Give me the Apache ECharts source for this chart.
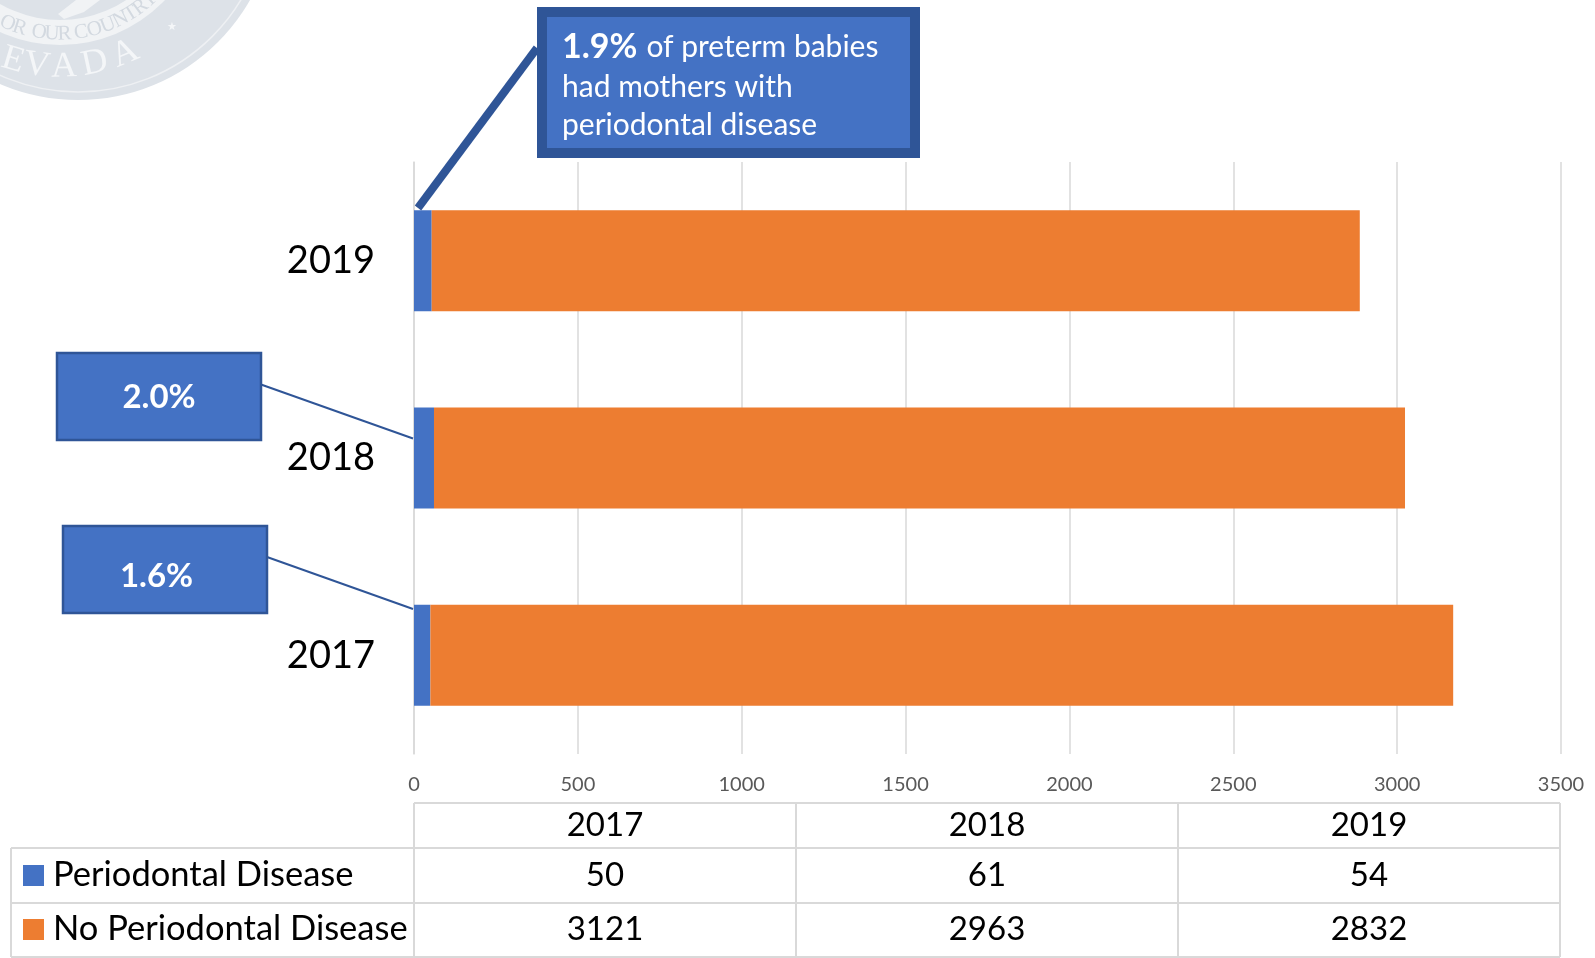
<!DOCTYPE html>
<html>
<head>
<meta charset="utf-8">
<style>html,body{margin:0;padding:0;background:#fff}#c{width:1595px;height:958px}</style>
<script src="https://cdn.jsdelivr.net/npm/echarts@6/dist/echarts.min.js"></script>
</head>
<body>
<div id="c"></div>
<script>
const categories = ['2017', '2018', '2019'];
const seriesNames = ['Periodontal Disease', 'No Periodontal Disease'];
const periodontal = [50, 61, 54];
const noPeriodontal = [3121, 2963, 2832];
const calloutPercents = ['1.6%', '2.0%', '1.9%'];
const calloutLines = ['of preterm babies', 'had mothers with', 'periodontal disease'];

const BLUE = '#4472c4', ORANGE = '#ed7d31', NAVY = '#2f5597', GRID = '#d9d9d9', SEAL = '#dde2e8', BAND = '#f1f3f5';
const FONT = 'Lato';
const chart = echarts.init(document.getElementById('c'), null, {renderer: 'canvas'});

const els = [];
const rect = (x, y, w, h, fill, stroke, lw, z) => els.push({type: 'rect', shape: {x, y, width: w, height: h}, style: {fill: fill || 'none', stroke: stroke || 'none', lineWidth: lw || 0}, z: z || 5, silent: true});
const line = (x1, y1, x2, y2, stroke, lw, z) => els.push({type: 'line', shape: {x1, y1, x2, y2}, style: {stroke, lineWidth: lw}, z: z || 5, silent: true});
const text = (x, y, t, size, o) => els.push({type: 'text', x, y, z: 6, silent: true, style: Object.assign({text: t, fontFamily: FONT, fontSize: size, fill: '#000', align: 'center', verticalAlign: 'middle'}, o || {})});
const circle = (cx, cy, r, fill, stroke, lw) => els.push({type: 'circle', shape: {cx, cy, r}, style: {fill: fill || 'none', stroke: stroke || 'none', lineWidth: lw || 0}, z: 1, silent: true});

/* faded seal in the corner */
const SCX = 60, SCY = -100;
circle(78, -98, 198, SEAL);
circle(78, -98, 190, 'none', '#eef0f3', 1.5);
circle(SCX, SCY, 145, BAND);
circle(SCX, SCY, 120, SEAL);
let arcFill = '#f4f6f8';
const arcLetters = (letters, angles, r, size) => letters.forEach((ch, i) => {
  const a = angles[i] * Math.PI / 180;
  els.push({type: 'text', x: SCX + r * Math.sin(a), y: SCY + r * Math.cos(a), rotation: a, z: 2, silent: true,
    style: {text: ch, fontFamily: 'Liberation Serif', fontSize: size, fill: arcFill, align: 'center', verticalAlign: 'middle'}});
});
arcLetters(['E', 'V', 'A', 'D', 'A'], [-16.4, -8, 1.4, 12, 23], 167, 36);
arcFill = '#d3d9e0';
arcLetters(['O', 'R', 'O', 'U', 'R', 'C', 'O', 'U', 'N', 'T', 'R', 'Y'], [-23, -17.5, -9, -3.5, 2, 9, 15, 21, 27, 32, 37, 42], 134, 21);
els.push({type: 'text', x: 172, y: 27, z: 2, silent: true, style: {text: '★', fontFamily: 'DejaVu Sans', fontSize: 11, fill: '#f4f6f8', align: 'center', verticalAlign: 'middle'}});
els.push({type: 'polygon', shape: {points: [[58, 14], [76, 0], [100, 0], [84, 12], [64, 19]]}, style: {fill: '#f1f3f5'}, z: 2, silent: true});

/* data table */
const colX = [414, 796, 1178, 1560], rowY = [803, 848, 903, 957], LEFT = 11;
for (let i = 0; i < colX.length; i++) line(colX[i], rowY[0], colX[i], rowY[3], GRID, 2);
line(LEFT, rowY[1], LEFT, rowY[3], GRID, 2);
line(colX[0], rowY[0], colX[3], rowY[0], GRID, 2);
for (let j = 1; j < rowY.length; j++) line(LEFT, rowY[j], colX[3], rowY[j], GRID, 2);
categories.forEach((c, i) => {
  const cx = (colX[i] + colX[i + 1]) / 2;
  text(cx, 825, c, 33);
  text(cx, 875, String(periodontal[i]), 33);
  text(cx, 929, String(noPeriodontal[i]), 33);
});
rect(23, 865, 21, 21, BLUE);
rect(23, 919, 21, 21, ORANGE);
text(53, 875, seriesNames[0], 34.5, {align: 'left'});
text(53, 929, seriesNames[1], 34.5, {align: 'left'});

/* callouts */
line(261, 384.5, 413, 438.5, NAVY, 2);
line(267, 557, 413, 609, NAVY, 2);
rect(57, 353, 204, 87, BLUE, NAVY, 2.5);
rect(63, 526, 204, 87, BLUE, NAVY, 2.5);
text(159, 397, calloutPercents[1], 33, {fill: '#fff', fontWeight: 'bold'});
text(156.5, 576, calloutPercents[0], 33, {fill: '#fff', fontWeight: 'bold'});
line(418, 208, 537, 48, NAVY, 8);
rect(542, 12, 373, 141, BLUE, NAVY, 10);
els.push({type: 'text', x: 562, y: 47, z: 6, silent: true, style: {
  text: '{b|' + calloutPercents[2] + '}{s| }{r|' + calloutLines[0] + '}', align: 'left', verticalAlign: 'middle',
  rich: {b: {fontFamily: FONT, fontSize: 34, fontWeight: 'bold', fill: '#fff', color: '#fff'},
         s: {fontFamily: FONT, fontSize: 30, fill: '#fff', color: '#fff', width: 9},
         r: {fontFamily: FONT, fontSize: 30, fill: '#fff', color: '#fff'}}}});
text(562, 87, calloutLines[1], 30, {align: 'left', fill: '#fff'});
text(562, 125, calloutLines[2], 30, {align: 'left', fill: '#fff'});

chart.setOption({
  animation: false,
  backgroundColor: '#fff',
  grid: {left: 414, width: 1147, top: 162, height: 592, containLabel: false},
  xAxis: {
    type: 'value', min: 0, max: 3500, interval: 500,
    axisLine: {show: false}, axisTick: {show: false},
    splitLine: {show: true, lineStyle: {color: GRID, width: 1.5}},
    axisLabel: {color: '#595959', fontFamily: FONT, fontSize: 20, margin: 21, formatter: v => String(v), hideOverlap: false, showMinLabel: true, showMaxLabel: true}
  },
  yAxis: {
    type: 'category', data: categories,
    axisLine: {show: true, lineStyle: {color: GRID, width: 1.5}}, axisTick: {show: false},
    axisLabel: {color: '#000', fontFamily: FONT, fontSize: 38, margin: 39}
  },
  series: [
    {name: seriesNames[0], type: 'bar', stack: 't', data: periodontal, barWidth: 101, itemStyle: {color: BLUE}, silent: true},
    {name: seriesNames[1], type: 'bar', stack: 't', data: noPeriodontal, barWidth: 101, itemStyle: {color: ORANGE}, silent: true}
  ],
  graphic: {elements: els}
});
</script>
</body>
</html>
